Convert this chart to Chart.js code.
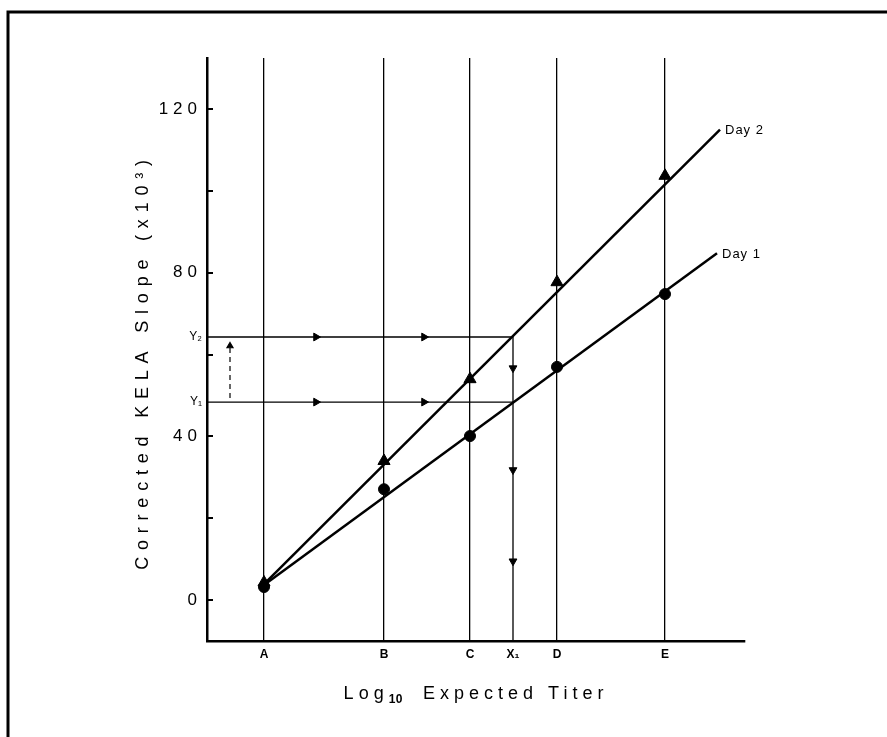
<!DOCTYPE html>
<html>
<head>
<meta charset="utf-8">
<script src="https://cdn.jsdelivr.net/npm/chart.js@4.4.0/dist/chart.umd.min.js"></script>
<style>
  body { margin: 0; background: #fff; }
  #wrap { width: 887px; height: 737px; position: relative; }
</style>
</head>
<body>
<div id="wrap"><canvas id="myChart"></canvas></div>
<script>
// positions of the reference lines on the log10 titer axis (arbitrary units)
var tickNames = ['A', 'B', 'C', 'X\u2081', 'D', 'E'];
var tickPos = [5.7, 17.7, 26.3, 30.6, 35.0, 45.8];
var samplePos = [5.7, 17.7, 26.3, 35.0, 45.8];

// measured slopes (x10^3)
var day1 = [3.2, 27.1, 40.1, 57.0, 74.8];
var day2 = [4.3, 34.0, 54.0, 77.7, 103.7];

// fitted lines, start and end
var day1FitX = [5.7, 51.0];
var day1Fit = [3.7, 84.8];
var day2FitX = [5.7, 51.3];
var day2Fit = [3.9, 115.0];

var yTicks = [0, 20, 40, 60, 80, 100, 120];
var yLabelled = [0, 40, 80, 120];
var yRef1 = 48.4;
var yRef2 = 64.3;
var xRef1 = 30.6;

// arrow heads
var arrowRightX = [10.9, 21.7];
var arrowDownY = [56.7, 31.8, 9.5];
var dashX = 2.3;
var dashY = [49.4, 62.1];

var FONT = '"Liberation Sans", Arial, Helvetica, sans-serif';
Chart.defaults.font.family = FONT;
Chart.defaults.color = '#000';

function pts(xs, ys) {
  return xs.map(function(x, i) { return {x: x, y: ys[i]}; });
}

// x title: "Log" with a real lowered "10"
function drawXTitle() {
  var c = this.ctx;
  var parts = [
    {t: 'Log', f: '18px ' + FONT, s: 5, dy: 0},
    {t: '10', f: 'bold 12px ' + FONT, s: 0.5, dy: 4},
    {t: '  Expected Titer', f: '18px ' + FONT, s: 5, dy: 0}
  ];
  c.save();
  c.fillStyle = '#000';
  c.textAlign = 'left';
  c.textBaseline = 'alphabetic';
  var total = 0;
  parts.forEach(function(p) {
    c.font = p.f; c.letterSpacing = p.s + 'px';
    p.w = c.measureText(p.t).width;
    total += p.w;
  });
  var x = (this.left + this.right) / 2 - total / 2;
  var y = this.bottom - 18;
  parts.forEach(function(p) {
    c.font = p.f; c.letterSpacing = p.s + 'px';
    c.fillText(p.t, x, y + p.dy);
    x += p.w;
  });
  c.restore();
}

function drawYTitle() {
  var c = this.ctx;
  c.save();
  c.fillStyle = '#000';
  c.font = '18px ' + FONT;
  c.letterSpacing = '6.8px';
  c.textAlign = 'center';
  c.textBaseline = 'middle';
  c.translate(this.left + 23, (this.top + this.bottom) / 2 + 12);
  c.rotate(-Math.PI / 2);
  c.fillText(this.options.title.text, 0, 0);
  c.restore();
}

var textStyle = {
  id: 'textStyle',
  beforeDraw: function(chart) {
    var xs = chart.scales.x, ys = chart.scales.y;
    if (!ys._styled) {
      var orig = ys.drawLabels;
      ys.drawLabels = function(area) {
        var all = this.getLabelItems(area);
        var c = this.ctx;
        c.save();
        c.letterSpacing = '5px';
        this._labelItems = all.filter(function(it) { return !/Y/.test(it.label); });
        orig.call(this, area);
        c.letterSpacing = '0px';
        this._labelItems = all.filter(function(it) { return /Y/.test(it.label); });
        orig.call(this, area);
        c.restore();
        this._labelItems = all;
      };
      ys.drawTitle = drawYTitle;
      ys._styled = true;
    }
    if (!xs._styled) {
      xs.drawTitle = drawXTitle;
      xs._styled = true;
    }
  },
  afterDatasetsDraw: function(chart) {
    var ctx = chart.ctx;
    ctx.save();
    ctx.letterSpacing = '1px';
    ctx.font = '13px ' + FONT;
    ctx.fillStyle = '#000';
    ctx.textBaseline = 'middle';
    ctx.textAlign = 'left';
    [[2, 'Day 1'], [3, 'Day 2']].forEach(function(d) {
      var el = chart.getDatasetMeta(d[0]).data;
      var p = el[el.length - 1];
      ctx.fillText(d[1], p.x + 5, p.y + 1);
    });
    ctx.restore();
  },
  afterDraw: function(chart) {
    var ctx = chart.ctx;
    ctx.save();
    ctx.strokeStyle = '#000';
    ctx.lineWidth = 3;
    ctx.beginPath();
    ctx.moveTo(8, chart.height);
    ctx.lineTo(8, 12);
    ctx.lineTo(chart.width, 12);
    ctx.stroke();
    ctx.restore();
  }
};

var ctx = document.getElementById('myChart');
var myChart = new Chart(ctx, {
  type: 'scatter',
  data: {
    datasets: [
      {
        label: 'Day 1',
        data: pts(samplePos, day1),
        pointStyle: 'circle',
        pointRadius: 5.5,
        backgroundColor: '#000',
        borderColor: '#000'
      },
      {
        label: 'Day 2',
        data: pts(samplePos, day2),
        pointStyle: 'triangle',
        pointRadius: 7,
        backgroundColor: '#000',
        borderColor: '#000'
      },
      {
        label: 'Day 1 fit',
        data: pts(day1FitX, day1Fit),
        showLine: true,
        pointRadius: 0,
        borderWidth: 2.5,
        borderColor: '#000'
      },
      {
        label: 'Day 2 fit',
        data: pts(day2FitX, day2Fit),
        showLine: true,
        pointRadius: 0,
        borderWidth: 2.5,
        borderColor: '#000'
      },
      {
        label: 'Y2 path',
        data: [{x: 0, y: yRef2}, {x: xRef1, y: yRef2}, {x: xRef1, y: -10}],
        showLine: true,
        pointRadius: 0,
        borderWidth: 1.3,
        borderColor: '#000'
      },
      {
        label: 'Y1 path',
        data: [{x: 0, y: yRef1}, {x: xRef1, y: yRef1}],
        showLine: true,
        pointRadius: 0,
        borderWidth: 1.3,
        borderColor: '#000'
      },
      {
        label: 'right arrows',
        data: pts(arrowRightX, [yRef2, yRef2]).concat(pts(arrowRightX, [yRef1, yRef1])),
        pointStyle: 'triangle',
        rotation: 90,
        pointRadius: 4.5,
        backgroundColor: '#000',
        borderColor: '#000'
      },
      {
        label: 'down arrows',
        data: pts([xRef1, xRef1, xRef1], arrowDownY),
        pointStyle: 'triangle',
        rotation: 180,
        pointRadius: 4.5,
        backgroundColor: '#000',
        borderColor: '#000'
      },
      {
        label: 'shift',
        data: pts([dashX, dashX], dashY),
        showLine: true,
        borderDash: [5, 4],
        borderWidth: 1.2,
        borderColor: '#000',
        pointRadius: [0, 3.5],
        pointStyle: 'triangle',
        backgroundColor: '#000'
      }
    ]
  },
  options: {
    responsive: true,
    maintainAspectRatio: false,
    animation: false,
    layout: { padding: { left: 120, top: 58, right: 142, bottom: 20 } },
    plugins: {
      legend: { display: false },
      tooltip: { enabled: false }
    },
    scales: {
      x: {
        type: 'linear',
        min: 0,
        max: 53.8,
        afterBuildTicks: function(axis) {
          axis.ticks = tickPos.map(function(v) { return {value: v}; });
        },
        afterFit: function(scale) { scale.height = 76; },
        ticks: {
          callback: function(value, index) { return tickNames[index]; },
          font: { size: 12, weight: 'bold' },
          padding: 6,
          maxRotation: 0,
          autoSkip: false
        },
        grid: {
          drawTicks: false,
          lineWidth: 1.3,
          color: function(c) {
            return c.tick && c.tick.value === xRef1 ? 'rgba(0,0,0,0)' : '#000';
          }
        },
        border: { color: '#000', width: 2.5 },
        title: {
          display: true,
          text: 'Log\u2081\u2080 Expected Titer',
          font: { size: 18 },
          padding: { top: 0, bottom: 13 }
        }
      },
      y: {
        type: 'linear',
        min: -10,
        max: 132.5,
        afterBuildTicks: function(axis) {
          axis.ticks = yTicks.concat([yRef1, yRef2]).sort(function(a, b) { return a - b; })
            .map(function(v) { return {value: v}; });
        },
        afterFit: function(scale) { scale.width = 87; },
        ticks: {
          callback: function(value) {
            if (value === yRef1) return 'Y\u2081';
            if (value === yRef2) return 'Y\u2082';
            return yLabelled.indexOf(value) >= 0 ? String(value) : '';
          },
          font: function(c) {
            var v = c.tick ? c.tick.value : 0;
            return (v === yRef1 || v === yRef2) ? { size: 12 } : { size: 17 };
          },
          padding: 11,
          autoSkip: false
        },
        grid: {
          drawOnChartArea: false,
          drawTicks: true,
          tickLength: -6,
          lineWidth: 2,
          color: function(c) {
            var v = c.tick ? c.tick.value : 0;
            return (v === yRef1 || v === yRef2) ? 'rgba(0,0,0,0)' : '#000';
          }
        },
        border: { color: '#000', width: 2.5 },
        title: {
          display: true,
          text: 'Corrected KELA Slope (x10\u00b3)',
          font: { size: 18 },
          padding: { top: 12, bottom: 0 }
        }
      }
    }
  },
  plugins: [textStyle]
});
</script>
</body>
</html>
